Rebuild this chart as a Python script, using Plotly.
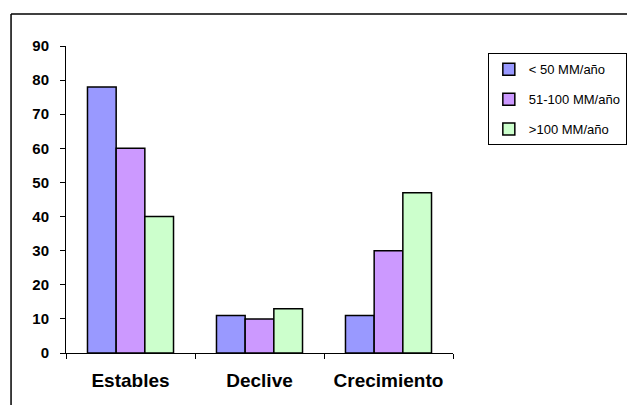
import plotly.graph_objects as go

# categories and series
categorias = ["Estables", "Declive", "Crecimiento"]
menos_50 = [78, 11, 11]
de_51_100 = [60, 10, 30]
mas_100 = [40, 13, 47]
y_ticks = [0, 10, 20, 30, 40, 50, 60, 70, 80, 90]

fuente = "Arial, Liberation Sans, sans-serif"

fig = go.Figure()
series = [
    ("< 50 MM/año", menos_50, "#9999FF"),
    ("51-100 MM/año", de_51_100, "#CC99FF"),
    (">100 MM/año", mas_100, "#CCFFCC"),
]
for nombre, valores, color in series:
    fig.add_trace(go.Bar(
        x=categorias, y=valores, name=nombre, legendgroup=nombre,
        marker=dict(color=color, line=dict(color="black", width=1.5)),
    ))

# marco exterior del grafico (solo borde izquierdo y superior visibles)
fig.add_shape(type="line", xref="paper", yref="paper",
              x0=-0.142, x1=-0.142, y0=-0.3, y1=1.104,
              line=dict(color="black", width=1.5))
fig.add_shape(type="line", xref="paper", yref="paper",
              x0=-0.142, x1=1.6, y0=1.104, y1=1.104,
              line=dict(color="black", width=1.5))

fig.update_layout(
    width=635, height=405,
    margin=dict(l=58, r=190, t=38, b=60),
    paper_bgcolor="white", plot_bgcolor="white",
    barmode="group", bargap=0.333, bargroupgap=0,
    font=dict(family=fuente, color="black"),
    showlegend=True,
    legend=dict(
        x=1.09, y=0.976, xanchor="left", yanchor="top",
        bordercolor="black", borderwidth=1,
        font=dict(size=13, family=fuente),
        tracegroupgap=10, itemwidth=30,
    ),
    xaxis=dict(
        showline=True, linecolor="black", linewidth=1,
        ticks="outside", ticklen=5, tickcolor="black",
        tickson="boundaries", ticklabelstandoff=10,
        tickfont=dict(size=19, family=fuente, weight="bold"),
        showgrid=False,
    ),
    yaxis=dict(
        range=[0, 90], tickvals=y_ticks,
        showline=True, linecolor="black", linewidth=1,
        ticks="outside", ticklen=5, tickcolor="black",
        ticklabelstandoff=8,
        tickfont=dict(size=15, family=fuente, weight="bold"),
        showgrid=False, zeroline=False,
    ),
)

fig.write_html("out.html")
